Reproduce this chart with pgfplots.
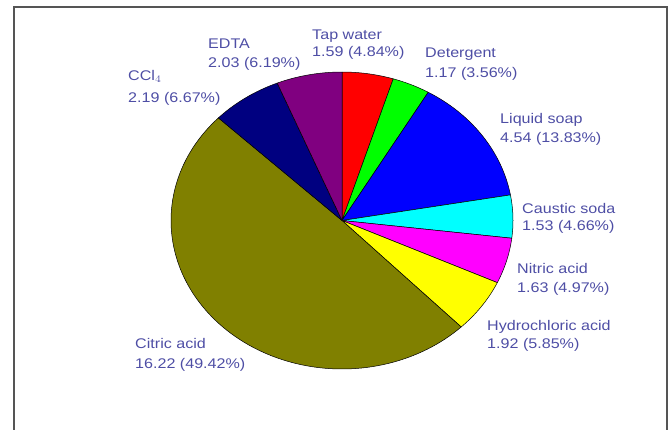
\documentclass[border=0pt]{standalone}
\usepackage{pgfplots}
\pgfplotsset{compat=1.18}
\usepackage{pgfplotstable}
\usepackage{fontspec}
\setmainfont{Liberation Sans}
\definecolor{lbl}{RGB}{78,78,165}
\definecolor{framec}{RGB}{85,85,85}
\definecolor{pred}{RGB}{255,0,0}
\definecolor{pgreen}{RGB}{0,255,0}
\definecolor{pblue}{RGB}{0,0,255}
\definecolor{pcyan}{RGB}{0,255,255}
\definecolor{pmagenta}{RGB}{255,0,255}
\definecolor{pyellow}{RGB}{255,255,0}
\definecolor{polive}{RGB}{128,128,0}
\definecolor{pnavy}{RGB}{0,0,128}
\definecolor{ppurple}{RGB}{128,0,128}

\pgfplotstableread[col sep=comma]{
name,value,col
Tap water,1.59,pred
Detergent,1.17,pgreen
Liquid soap,4.54,pblue
Caustic soda,1.53,pcyan
Nitric acid,1.63,pmagenta
Hydrochloric acid,1.92,pyellow
Citric acid,16.22,polive
CCl4,2.19,pnavy
EDTA,2.03,ppurple
}\piedata

\begin{document}
\begin{tikzpicture}
\begin{axis}[
  width=672pt, height=429pt, scale only axis,
  xmin=0, xmax=672, ymin=0, ymax=429, y dir=reverse,
  hide axis, clip=true,
]
\addplot[draw=none] coordinates {(0,0) (672,429)};
\addplot[draw=framec, line width=1.6pt] coordinates {(14,440) (14,7) (667,7) (667,440)};

\pgfplotstablegetrowsof{\piedata}
\pgfmathtruncatemacro\nrows{\pgfplotsretval-1}
\def\total{0}
\pgfplotsforeachungrouped \i in {0,...,\nrows}{%
  \pgfplotstablegetelem{\i}{value}\of\piedata
  \pgfmathsetmacro\total{\total+\pgfplotsretval}%
}
\def\cum{0}
\pgfplotsforeachungrouped \i in {0,...,\nrows}{%
  \pgfplotstablegetelem{\i}{value}\of\piedata \let\v\pgfplotsretval
  \pgfplotstablegetelem{\i}{col}\of\piedata \let\c\pgfplotsretval
  \pgfmathsetmacro\a{90-360*\cum/\total}%
  \pgfmathsetmacro\cum{\cum+\v}%
  \pgfmathsetmacro\b{90-360*\cum/\total}%
  \edef\temp{\noexpand\addplot[fill=\c, draw=black, line width=0.5pt, domain=\b:\a, samples=100, line join=round]
    ({342+171*cos(x)},{220.5-148.5*sin(x)}) -- (axis cs:342,220.5) -- cycle;}%
  \temp
}

\tikzset{lab/.style={anchor=base west, inner sep=0pt, text=lbl, font=\fontsize{14}{17}\selectfont, xscale=1.15}}
\node[lab] at (axis cs:312,39) {Tap water};
\node[lab] at (axis cs:312,56) {1.59 (4.84\%)};
\node[lab] at (axis cs:208,48) {EDTA};
\node[lab] at (axis cs:208,67) {2.03 (6.19\%)};
\node[lab] at (axis cs:128,80) {CCl$_4$};
\node[lab] at (axis cs:128,102) {2.19 (6.67\%)};
\node[lab] at (axis cs:425,57) {Detergent};
\node[lab] at (axis cs:425,77) {1.17 (3.56\%)};
\node[lab] at (axis cs:500,123) {Liquid soap};
\node[lab] at (axis cs:500,142) {4.54 (13.83\%)};
\node[lab] at (axis cs:522,213) {Caustic soda};
\node[lab] at (axis cs:522,230) {1.53 (4.66\%)};
\node[lab] at (axis cs:517,273) {Nitric acid};
\node[lab] at (axis cs:517,292) {1.63 (4.97\%)};
\node[lab] at (axis cs:487,330) {Hydrochloric acid};
\node[lab] at (axis cs:487,348) {1.92 (5.85\%)};
\node[lab] at (axis cs:135,348) {Citric acid};
\node[lab] at (axis cs:135,368) {16.22 (49.42\%)};
\end{axis}
\end{tikzpicture}
\end{document}
